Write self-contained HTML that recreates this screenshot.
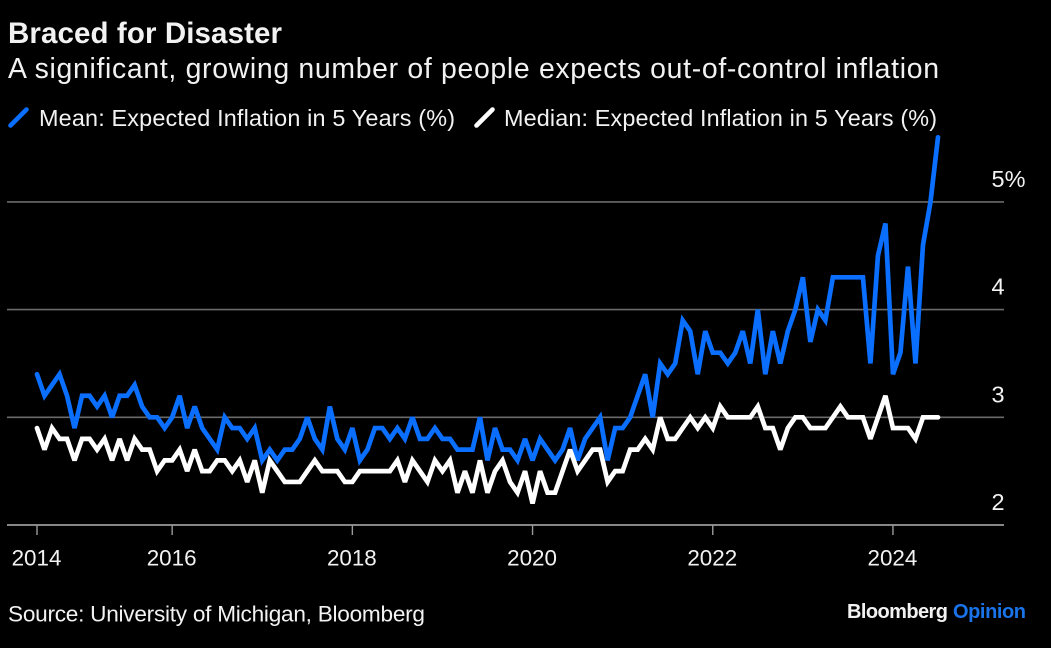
<!DOCTYPE html>
<html lang="en">
<head>
<meta charset="utf-8">
<title>Braced for Disaster</title>
<style>
html,body{margin:0;padding:0;background:#000;}
body{width:1051px;height:648px;overflow:hidden;}
svg{display:block;}
text{font-family:"Liberation Sans",Arial,sans-serif;fill:#f2f2f2;}
</style>
</head>
<body>
<svg id="chart" xmlns="http://www.w3.org/2000/svg" width="1051" height="648" viewBox="0 0 1051 648">
  <rect width="1051" height="648" fill="#000"/>
  <text x="8" y="43" font-size="29.5" font-weight="700" fill="#fff" textLength="274" lengthAdjust="spacing">Braced for Disaster</text>
  <text x="8" y="78" font-size="28.4" textLength="931" lengthAdjust="spacing">A significant, growing number of people expects out-of-control inflation</text>
  <g>
    <line x1="10.5" y1="125.5" x2="26.5" y2="109.5" stroke="#0a6eff" stroke-width="4.6" stroke-linecap="round"/>
    <text x="39" y="126" font-size="23.4" textLength="416" lengthAdjust="spacing">Mean: Expected Inflation in 5 Years (%)</text>
    <line x1="476.5" y1="125.5" x2="492.5" y2="109.5" stroke="#fff" stroke-width="4.6" stroke-linecap="round"/>
    <text x="504" y="126" font-size="23.4" textLength="433" lengthAdjust="spacing">Median: Expected Inflation in 5 Years (%)</text>
  </g>
  <g id="grid"></g>
  <g id="xaxis"></g>
  <g id="yaxis"></g>
  <g id="series"></g>
  <text x="8" y="621.5" font-size="22.6" textLength="417" lengthAdjust="spacing">Source: University of Michigan, Bloomberg</text>
  <text x="847" y="618" font-size="20" font-weight="700" fill="#fff" textLength="101" lengthAdjust="spacing">Bloomberg</text>
  <text x="953" y="618" font-size="20" font-weight="700" style="fill:#1a73e8" textLength="73" lengthAdjust="spacing">Opinion</text>
</svg>
<script>
const firstMonth = "2014-07";
const lastMonth = "2024-07";
const meanValues = [
  3.4,3.2,3.3,3.4,3.2,2.9,3.2,3.2,3.1,3.2,
  3.0,3.2,3.2,3.3,3.1,3.0,3.0,2.9,3.0,3.2,
  2.9,3.1,2.9,2.8,2.7,3.0,2.9,2.9,2.8,2.9,
  2.6,2.7,2.6,2.7,2.7,2.8,3.0,2.8,2.7,3.1,
  2.8,2.7,2.9,2.6,2.7,2.9,2.9,2.8,2.9,2.8,
  3.0,2.8,2.8,2.9,2.8,2.8,2.7,2.7,2.7,3.0,
  2.6,2.9,2.7,2.7,2.6,2.8,2.6,2.8,2.7,2.6,
  2.7,2.9,2.6,2.8,2.9,3.0,2.6,2.9,2.9,3.0,
  3.2,3.4,3.0,3.5,3.4,3.5,3.9,3.8,3.4,3.8,
  3.6,3.6,3.5,3.6,3.8,3.5,4.0,3.4,3.8,3.5,
  3.8,4.0,4.3,3.7,4.0,3.9,4.3,4.3,4.3,4.3,
  4.3,3.5,4.5,4.8,3.4,3.6,4.4,3.5,4.6,5.0,5.6
];
const medianValues = [
  2.9,2.7,2.9,2.8,2.8,2.6,2.8,2.8,2.7,2.8,
  2.6,2.8,2.6,2.8,2.7,2.7,2.5,2.6,2.6,2.7,
  2.5,2.7,2.5,2.5,2.6,2.6,2.5,2.6,2.4,2.6,
  2.3,2.6,2.5,2.4,2.4,2.4,2.5,2.6,2.5,2.5,
  2.5,2.4,2.4,2.5,2.5,2.5,2.5,2.5,2.6,2.4,
  2.6,2.5,2.4,2.6,2.5,2.6,2.3,2.5,2.3,2.6,
  2.3,2.5,2.6,2.4,2.3,2.5,2.2,2.5,2.3,2.3,
  2.5,2.7,2.5,2.6,2.7,2.7,2.4,2.5,2.5,2.7,
  2.7,2.8,2.7,3.0,2.8,2.8,2.9,3.0,2.9,3.0,
  2.9,3.1,3.0,3.0,3.0,3.0,3.1,2.9,2.9,2.7,
  2.9,3.0,3.0,2.9,2.9,2.9,3.0,3.1,3.0,3.0,
  3.0,2.8,3.0,3.2,2.9,2.9,2.9,2.8,3.0,3.0,3.0
];
const xTickMonths = ["2014-07","2016-01","2018-01","2020-01","2022-01","2024-01"];
const xTickLabels = ["2014","2016","2018","2020","2022","2024"];
const yTickValues = [2,3,4,5];
const yTickLabels = ["2","3","4","5%"];

const NS = "http://www.w3.org/2000/svg";
function monthIndex(s) {
  const parts = s.split("-");
  return Number(parts[0]) * 12 + Number(parts[1]) - 1;
}
const plot = {left: 37, right: 938, bottom: 525, unit: 107.7};
const firstIdx = monthIndex(firstMonth);
const spanMonths = monthIndex(lastMonth) - firstIdx;
function xScale(m) {
  return plot.left + (m - firstIdx) / spanMonths * (plot.right - plot.left);
}
function yScale(v) {
  return plot.bottom - (v - yTickValues[0]) * plot.unit;
}
function make(tag, attrs, parent) {
  const el = document.createElementNS(NS, tag);
  Object.keys(attrs).forEach(function (k) { el.setAttribute(k, attrs[k]); });
  parent.appendChild(el);
  return el;
}

const grid = document.getElementById("grid");
const xaxis = document.getElementById("xaxis");
const yaxis = document.getElementById("yaxis");
const series = document.getElementById("series");

yTickValues.forEach(function (v, i) {
  const y = yScale(v);
  const isBase = i === 0;
  const line = make("line", {x1: 7, x2: 1004, y1: y, y2: y, stroke: isBase ? "#b4b4b4" : "#6a6a6a", "stroke-width": 1.6}, grid);
  
  
  const label = make("text", {x: 991.5, y: y - 15, "font-size": 23.5}, yaxis);
  
  
  label.textContent = yTickLabels[i];
});

xTickMonths.forEach(function (d, i) {
  const x = xScale(monthIndex(d));
  const tick = make("line", {x1: x, x2: x, y1: plot.bottom, y2: plot.bottom + 10, stroke: "#9a9a9a", "stroke-width": 1.4}, xaxis);
  
  
  const label = make("text", {x: x - 0.5, y: 565.5, "font-size": 22.4, "text-anchor": "middle"}, xaxis);
  
  
  label.textContent = xTickLabels[i];
});

function linePath(values) {
  return values.map(function (v, i) {
    return (i ? "L" : "M") + xScale(firstIdx + i).toFixed(2) + " " + yScale(v).toFixed(2);
  }).join(" ");
}
const meanLine = make("path", {d: linePath(meanValues), fill: "none", stroke: "#0a6eff", "stroke-width": 4.7, "stroke-linejoin": "miter", "stroke-linecap": "round", "stroke-miterlimit": 3}, series);


const medianLine = make("path", {d: linePath(medianValues), fill: "none", stroke: "#fff", "stroke-width": 4.7, "stroke-linejoin": "miter", "stroke-linecap": "round", "stroke-miterlimit": 3}, series);


</script>
</body>
</html>
